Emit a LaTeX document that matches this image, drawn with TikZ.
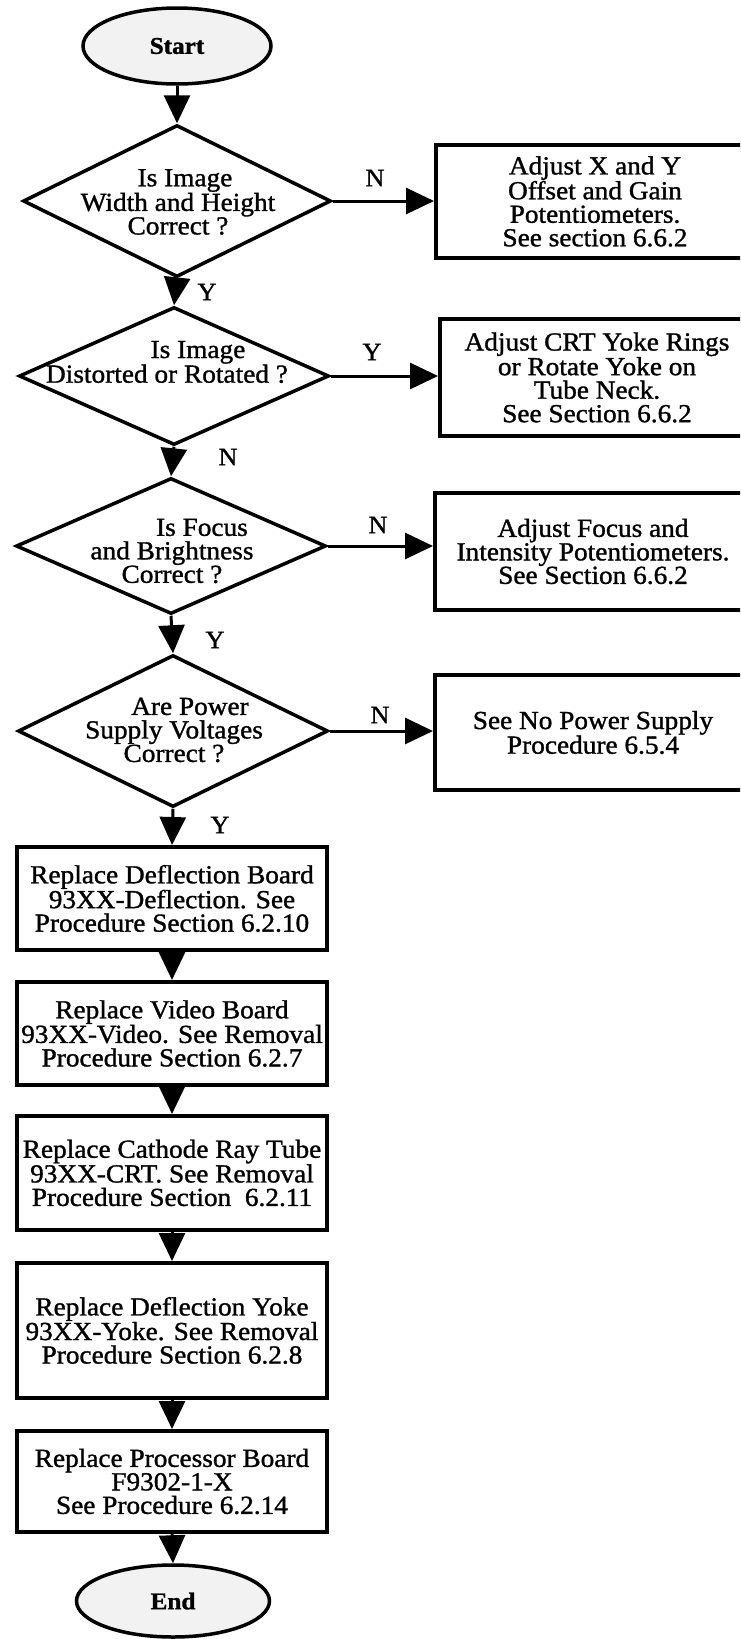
\documentclass[tikz,border=0pt]{standalone}
\usepackage{fontspec}
\setmainfont{Liberation Serif}[FakeStretch=1.05,FakeBold=1.2]
\usetikzlibrary{shapes.geometric,arrows.meta}
\begin{document}
\begin{tikzpicture}[x=1pt,y=-1pt,
  txt/.style={font=\fontsize{26}{23.5}\selectfont, align=center, inner sep=0pt},
  lbl/.style={font=\fontsize{25}{25}\selectfont, inner sep=0pt},
  term/.style={ellipse, draw, line width=3.5pt, fill=gray!10, inner sep=0pt,
    font=\bfseries\fontsize{24}{24}\selectfont},
  decision/.style={diamond, draw, line width=3.5pt, inner sep=0pt},
  actbox/.style={rectangle, draw, line width=4pt, inner sep=0pt, align=center,
    font=\fontsize{26}{23.5}\selectfont},
  flow/.style={line width=3pt, -{Triangle[length=28pt,width=26pt]}}
]
\useasboundingbox (0,0) rectangle (740,1639);
\clip (0,0) rectangle (740,1639);

% terminals
\node[term, minimum width=188pt, minimum height=76pt] (start) at (177,46) {Start};
\node[term, minimum width=193pt, minimum height=72pt] (stop) at (173,1601) {End};

% decisions
\node[decision, minimum width=308pt, minimum height=152pt] (d1) at (177,201) {};
\node[decision, minimum width=310pt, minimum height=138pt] (d2) at (174,376) {};
\node[decision, minimum width=310pt, minimum height=136pt] (d3) at (171,546) {};
\node[decision, minimum width=310pt, minimum height=152pt] (d4) at (173,731) {};

\node[txt] (d1t) at (178,202) {\hspace*{14pt}Is Image\\Width and Height\\Correct ?};
\node[txt] (d2t) at (167,362) {\hspace*{62pt}Is Image\\Distorted or Rotated ?};
\node[txt] (d3t) at (172,551) {\hspace*{60pt}Is Focus\\and Brightness\\Correct ?};
\node[txt] (d4t) at (174,730) {\hspace*{32pt}Are Power\\Supply Voltages\\Correct ?};

% side actions (run off the right edge)
\node[actbox, minimum width=318pt, minimum height=113pt] (b1) at (595,201.5)
  {Adjust X and Y\\Offset and Gain\\Potentiometers.\\See section 6.6.2};
\node[actbox, minimum width=314pt, minimum height=117pt] (b2) at (597,377.5)
  {Adjust CRT Yoke Rings\\or Rotate Yoke on\\Tube Neck.\\See Section 6.6.2};
\node[actbox, minimum width=316pt, minimum height=117pt] (b3) at (593,551.5)
  {Adjust Focus and\\Intensity Potentiometers.\\See Section 6.6.2};
\node[actbox, minimum width=316pt, minimum height=115pt] (b4) at (593,732.5)
  {See No Power Supply\\Procedure 6.5.4};

% replacement chain
\node[actbox, minimum width=310pt, minimum height=103pt] (b5) at (172,898.5)
  {Replace Deflection Board\\93XX-Deflection. See\\Procedure Section 6.2.10};
\node[actbox, minimum width=310pt, minimum height=103pt] (b6) at (172,1033.5)
  {Replace Video Board\\93XX-Video. See Removal\\Procedure Section 6.2.7};
\node[actbox, minimum width=310pt, minimum height=114pt] (b7) at (172,1173)
  {Replace Cathode Ray Tube\\93XX-CRT. See Removal\\Procedure Section\ \ 6.2.11};
\node[actbox, minimum width=310pt, minimum height=135pt] (b8) at (172,1330.5)
  {Replace Deflection Yoke\\93XX-Yoke. See Removal\\Procedure Section 6.2.8};
\node[actbox, minimum width=310pt, minimum height=101pt] (b9) at (172,1481.5)
  {Replace Processor Board\\F9302-1-X\\See Procedure 6.2.14};

% main flow
\draw[flow] (start.south) -- (d1.north);
\draw[flow] (d1.south) -- (d2.north);
\draw[flow] (d2.south) -- (d3.north);
\draw[flow] (d3.south) -- (d4.north);
\draw[flow] (d4.south) -- (b5.north);
\draw[flow] (b5.south) -- (b6.north);
\draw[flow] (b6.south) -- (b7.north);
\draw[flow] (b7.south) -- (b8.north);
\draw[flow] (b8.south) -- (b9.north);
\draw[flow] (b9.south) -- (stop.north);

% branches
\draw[flow] (d1.east) -- (d1.east -| b1.west);
\draw[flow] (d2.east) -- (d2.east -| b2.west);
\draw[flow] (d3.east) -- (d3.east -| b3.west);
\draw[flow] (d4.east) -- (d4.east -| b4.west);

% answer labels
\node[lbl] (n1) at (375,178) {N};
\node[lbl] (y1) at (207,292) {Y};
\node[lbl] (y2) at (372,352) {Y};
\node[lbl] (n2) at (228,457) {N};
\node[lbl] (n3) at (378,525) {N};
\node[lbl] (y3) at (215,640) {Y};
\node[lbl] (n4) at (380,715) {N};
\node[lbl] (y4) at (220,825) {Y};
\end{tikzpicture}
\end{document}
